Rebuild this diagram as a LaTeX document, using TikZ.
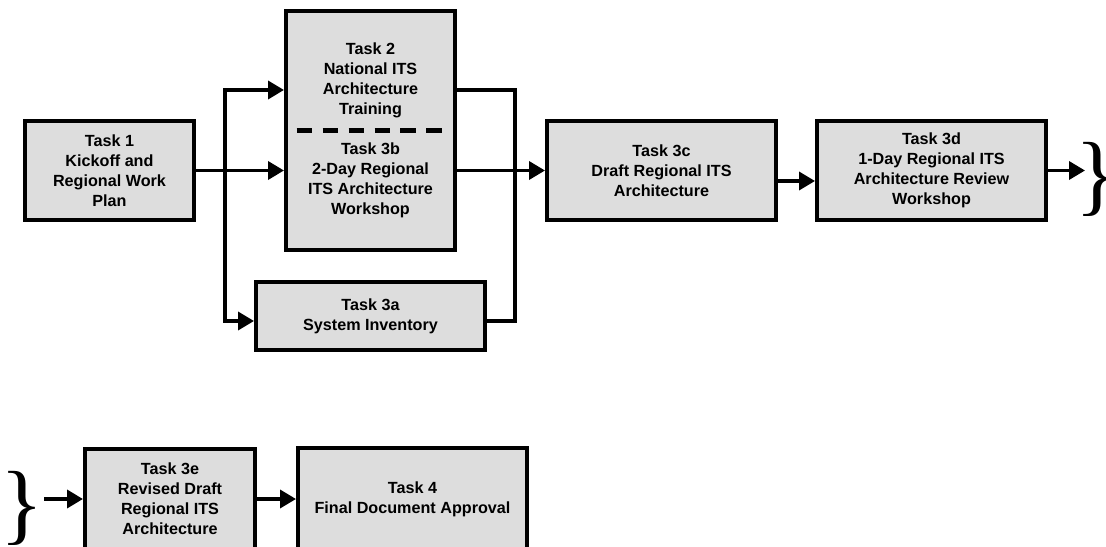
\documentclass[tikz,border=0pt]{standalone}
\usepackage{fontspec}
\setmainfont{Liberation Sans}
\newfontfamily\bracefam{Liberation Serif}
\usepackage{xcolor}
\usepackage{tikz}
\usetikzlibrary{arrows.meta}
\definecolor{boxgray}{HTML}{DDDDDD}
\newcommand\boxfont{\fontsize{9.2}{11.4}\selectfont\bfseries}
\newcommand\bracefont{\bracefam\fontsize{51}{51}\selectfont}
\tikzset{
  task/.style={draw=black, fill=boxgray, line width=2.3pt, align=center, font=\boxfont, inner sep=0pt},
  narrow/.style={minimum width=3.38cm},
  wide/.style={minimum width=4.58cm},
  link/.style={draw=black, line width=2pt, line join=miter},
  flow/.style={link, -{Triangle[length=0.32cm,width=0.36cm]}},
  divider/.style={draw=black, line width=2.3pt, dash pattern=on 0.31cm off 0.21cm},
  brace/.style={font=\bracefont, inner sep=0pt, anchor=base west},
}
\begin{document}
\begin{tikzpicture}[x=0.02cm,y=-0.02cm]
  \useasboundingbox (0,0) rectangle (1106,547);
  % first row
  \node[task,narrow,minimum height=1.98cm] (t1) at (109.5,170.5) {Task 1\\Kickoff and\\Regional Work\\Plan};
  \node[task,narrow,minimum height=4.78cm] (t2) at (370.5,130.5) {Task 2\\National ITS\\Architecture\\Training\\[11.4pt]Task 3b\\2-Day Regional\\ITS Architecture\\Workshop};
  \node[task,wide,minimum height=1.36cm] (t3a) at (370.5,316) {Task 3a\\System Inventory};
  \node[task,wide,minimum height=1.98cm] (t3c) at (661.5,170.5) {Task 3c\\Draft Regional ITS\\Architecture};
  \node[task,wide,minimum height=1.98cm] (t3d) at (931.5,170.5) {Task 3d\\1-Day Regional ITS\\Architecture Review\\Workshop};
  \node[brace] (brA) at (1075,204.4) {\}};
  \draw[divider] ([xshift=-1.48cm]t2.center) -- ([xshift=1.48cm]t2.center);
  % split and merge
  \coordinate (spT) at (225,90);
  \coordinate (spB) at (225,321);
  \coordinate (mgT) at (515,90);
  \coordinate (mgB) at (515,321);
  \draw[flow] (t1.east) -- (t1.east -| t2.west);
  \draw[link,{Triangle[length=0.32cm,width=0.36cm]}-{Triangle[length=0.32cm,width=0.36cm]}]
    (spT -| t2.west) -- (spT) -- (spB) -- (spB -| t3a.west);
  \draw[link] (mgT -| t2.east) -- (mgT) -- (mgB) -- (mgB -| t3a.east);
  \draw[flow] (t3c.west -| t2.east) -- (t3c.west);
  \draw[flow] ([yshift=-0.21cm]t3c.east) -- ([yshift=-0.21cm]t3d.west);
  \draw[flow,shorten >=-0.2cm] (t3d.east) -- (t3d.east -| brA.west);
  % second row
  \node[brace] (brB) at (0.5,533.4) {\}};
  \node[task,narrow,minimum width=3.4cm,minimum height=2cm] (t3e) at (170,499) {Task 3e\\Revised Draft\\Regional ITS\\Architecture};
  \node[task,wide,minimum height=2.04cm] (t4) at (412.5,499) {Task 4\\Final Document Approval};
  \draw[flow] (brB.east |- t3e.west) -- (t3e.west);
  \draw[flow] (t3e.east) -- (t4.west);
\end{tikzpicture}
\end{document}
